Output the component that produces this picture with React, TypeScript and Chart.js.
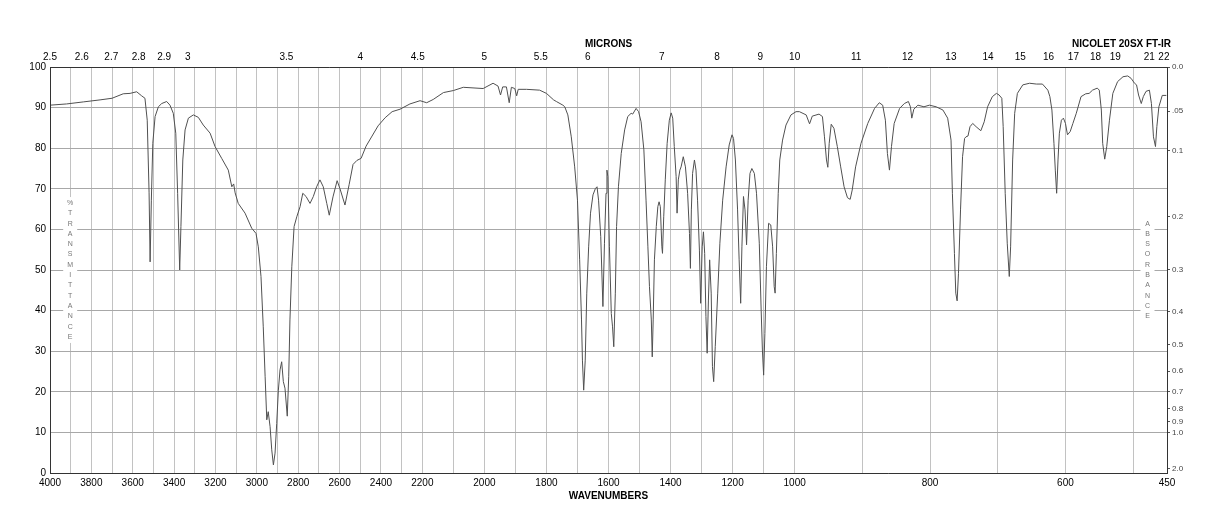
import React, { useEffect, useRef } from 'react';
import { Chart, LinearScale, registerables } from 'chart.js';

Chart.register(...registerables);

// ---- Spectrum data (wavenumber, cm-1) and % transmittance ----
const wavenumbers: number[] = [
  4000, 3920, 3839, 3758, 3700, 3646, 3613, 3581, 3557, 3541, 3530, 3521, 3516, 3510, 3503, 3492, 3476, 3460, 3436, 3420,
  3404, 3392, 3383, 3373, 3367, 3358, 3347, 3331, 3307, 3283, 3259, 3226, 3202, 3170, 3138, 3121, 3112, 3105, 3090, 3057,
  3025, 3004, 2993, 2980, 2969, 2960, 2952, 2945, 2936, 2928, 2920, 2912, 2904, 2896, 2888, 2880, 2872, 2864, 2853, 2846,
  2840, 2831, 2820, 2807, 2791, 2778, 2762, 2743, 2727, 2711, 2695, 2679, 2662, 2650, 2632, 2612, 2598, 2574, 2554, 2535,
  2516, 2496, 2472, 2443, 2414, 2380, 2346, 2308, 2260, 2211, 2186, 2165, 2132, 2100, 2068, 2004, 1972, 1956, 1948, 1941,
  1929, 1920, 1913, 1902, 1896, 1891, 1864, 1822, 1800, 1777, 1768, 1747, 1741, 1731, 1720, 1709, 1700, 1693, 1687, 1684,
  1680, 1675, 1670, 1664, 1658, 1650, 1642, 1637, 1632, 1625, 1618, 1613, 1608, 1605, 1602, 1597, 1591, 1587, 1583, 1578,
  1574, 1568, 1559, 1548, 1538, 1527, 1522, 1511, 1503, 1495, 1486, 1479, 1473, 1468, 1462, 1459, 1456, 1452, 1446, 1441,
  1437, 1433, 1428, 1426, 1422, 1417, 1411, 1404, 1398, 1393, 1388, 1382, 1379, 1375, 1370, 1366, 1359, 1352, 1345, 1339,
  1336, 1333, 1329, 1323, 1318, 1313, 1307, 1303, 1298, 1294, 1290, 1286, 1282, 1278, 1274, 1269, 1265, 1261, 1256, 1248,
  1241, 1232, 1221, 1211, 1202, 1197, 1191, 1184, 1179, 1174, 1170, 1165, 1160, 1155, 1150, 1144, 1138, 1130, 1123, 1114,
  1108, 1104, 1100, 1096, 1091, 1084, 1077, 1071, 1066, 1063, 1059, 1053, 1048, 1039, 1028, 1012, 998, 993, 983, 978,
  974, 964, 959, 956, 953, 951, 949, 946, 942, 937, 932, 927, 922, 918, 915, 910, 902, 892, 882, 875,
  870, 866, 863, 860, 857, 853, 845, 838, 832, 829, 827, 824, 818, 809, 801, 791, 781, 774, 769, 767,
  764, 762, 760, 758, 755, 752, 749, 747, 744, 741, 737, 732, 725, 720, 715, 708, 702, 698, 694, 692,
  689, 686, 683, 681, 678, 675, 671, 663, 653, 643, 634, 626, 623, 620, 617, 615, 613, 611, 609, 606,
  603, 600, 597, 593, 589, 584, 577, 570, 565, 560, 553, 550, 547, 545, 542, 539, 535, 530, 523, 515,
  508, 503, 498, 495, 492, 488, 485, 481, 476, 473, 470, 467, 465, 462, 457, 451,
];

const transmittance: number[] = [
  90.6, 90.9, 91.4, 91.9, 92.3, 93.4, 93.5, 93.9, 92.9, 92.3, 86.9, 69.0, 52.0, 67.2, 81.2, 87.8, 90.2, 91.0, 91.5, 90.6,
  88.6, 83.7, 68.9, 50.0, 60.7, 77.1, 84.5, 87.4, 88.2, 87.6, 85.7, 83.7, 80.4, 77.5, 74.6, 70.5, 71.2, 69.0, 66.4, 64.0,
  60.3, 59.0, 55.7, 48.4, 36.0, 23.7, 13.1, 15.1, 11.4, 5.7, 2.0, 4.9, 12.2, 20.4, 25.4, 27.4, 22.5, 20.9, 14.0, 23.7,
  37.7, 50.8, 60.7, 63.1, 65.6, 68.9, 68.1, 66.4, 68.1, 70.5, 72.2, 70.5, 66.4, 63.5, 68.0, 72.0, 70.0, 66.0, 71.0, 76.0,
  77.0, 77.5, 80.5, 83.0, 85.5, 87.5, 89.0, 89.6, 90.9, 91.7, 91.2, 92.0, 93.7, 94.2, 95.0, 94.7, 96.0, 95.3, 93.1, 95.1,
  95.1, 91.2, 95.0, 94.7, 92.9, 94.5, 94.5, 94.3, 93.5, 91.9, 91.5, 90.6, 90.2, 88.2, 82.8, 75.4, 67.2, 52.5, 37.7, 27.8,
  20.4, 27.8, 44.3, 55.7, 64.0, 68.5, 70.1, 70.5, 67.2, 58.2, 41.0, 56.6, 68.9, 74.6, 73.0, 55.7, 39.3, 36.0, 31.1, 44.3,
  60.7, 70.5, 78.7, 84.5, 87.8, 88.6, 88.4, 89.8, 89.0, 86.5, 79.6, 67.2, 55.7, 45.9, 37.7, 28.6, 37.7, 52.5, 60.7, 65.6,
  66.8, 65.6, 55.7, 54.1, 63.1, 72.2, 81.2, 86.9, 88.7, 87.4, 80.4, 73.0, 64.0, 72.2, 74.6, 75.4, 77.9, 75.4, 68.9, 59.0,
  50.4, 64.8, 73.8, 77.1, 74.6, 67.2, 54.9, 41.8, 55.7, 59.4, 54.1, 38.5, 29.5, 42.6, 52.5, 44.3, 26.2, 22.5, 31.1, 44.3,
  56.6, 67.2, 75.4, 80.8, 83.3, 82.4, 77.1, 64.8, 52.5, 41.8, 55.7, 68.1, 64.8, 56.2, 67.2, 73.8, 75.0, 73.8, 68.9, 56.6,
  40.1, 30.3, 24.1, 34.4, 50.8, 61.5, 61.1, 55.7, 45.9, 44.3, 54.1, 68.9, 77.1, 82.0, 85.7, 88.2, 89.0, 89.0, 88.2, 86.0,
  87.9, 88.4, 87.8, 82.8, 77.1, 75.3, 81.2, 85.9, 84.9, 80.4, 75.4, 70.5, 67.8, 67.4, 69.7, 75.4, 81.2, 86.1, 89.8, 91.2,
  90.6, 86.9, 78.7, 74.6, 80.4, 86.1, 89.8, 91.0, 91.5, 90.2, 87.4, 89.6, 90.6, 90.2, 90.6, 90.2, 89.4, 87.4, 82.0, 68.9,
  54.1, 44.3, 42.4, 49.2, 64.8, 77.9, 82.4, 82.8, 83.0, 85.3, 86.1, 85.3, 84.3, 86.5, 90.2, 92.7, 93.5, 93.1, 92.3, 85.3,
  68.9, 56.6, 48.4, 55.7, 77.1, 88.6, 93.5, 95.6, 96.0, 95.8, 95.8, 94.3, 92.7, 89.4, 81.2, 74.6, 68.9, 77.1, 83.7, 86.9,
  87.4, 86.1, 83.3, 84.1, 86.1, 88.6, 92.7, 93.4, 93.5, 94.3, 94.8, 94.3, 89.4, 81.2, 77.3, 80.4, 86.9, 93.5, 96.4, 97.6,
  97.8, 97.2, 96.0, 95.6, 93.1, 91.0, 92.7, 94.0, 94.3, 91.0, 82.8, 80.4, 85.3, 90.2, 93.0, 93.0,
];

// ---- Axis ticks ----
const wavenumberTicks: number[] = [
  4000, 3900, 3800, 3700, 3600, 3500, 3400, 3300, 3200, 3100, 3000, 2900, 2800, 2700, 2600, 2500, 2400, 2300, 2200, 2100,
  2000, 1900, 1800, 1700, 1600, 1500, 1400, 1300, 1200, 1100, 1000, 900, 800, 700, 600, 500, 450,
];
const wavenumberLabels: string[] = [
  '4000', '', '3800', '', '3600', '', '3400', '', '3200', '', '3000', '', '2800', '', '2600', '', '2400', '', '2200', '',
  '2000', '', '1800', '', '1600', '', '1400', '', '1200', '', '1000', '', '800', '', '600', '', '450',
];
const micronTicks: number[] = [2.5, 2.6, 2.7, 2.8, 2.9, 3, 3.5, 4, 4.5, 5, 5.5, 6, 7, 8, 9, 10, 11, 12, 13, 14, 15, 16, 17, 18, 19, 21, 22];
const micronLabels: string[] = ['2.5', '2.6', '2.7', '2.8', '2.9', '3', '3.5', '4', '4.5', '5', '5.5', '6', '7', '8', '9', '10', '11', '12', '13', '14', '15', '16', '17', '18', '19', '21', '22'];
const percentTicks: number[] = [0, 10, 20, 30, 40, 50, 60, 70, 80, 90, 100];
const absorbanceTicks: number[] = [0, 0.05, 0.1, 0.2, 0.3, 0.4, 0.5, 0.6, 0.7, 0.8, 0.9, 1.0, 2.0];
const absorbanceLabels: string[] = ['0.0', '.05', '0.1', '0.2', '0.3', '0.4', '0.5', '0.6', '0.7', '0.8', '0.9', '1.0', '2.0'];

// Piecewise-linear wavenumber axis (three equal-width panels)
const PANEL_BREAKS: number[] = [4000, 2200, 1000, 450];

function waveToFraction(v: number): number {
  for (let i = 0; i < 3; i++) {
    const a = PANEL_BREAKS[i];
    const b = PANEL_BREAKS[i + 1];
    if (v >= b || i === 2) return (i + (a - v) / (a - b)) / 3;
  }
  return 1;
}
function fractionToWave(f: number): number {
  const s = Math.min(2, Math.max(0, Math.floor(f * 3)));
  const a = PANEL_BREAKS[s];
  const b = PANEL_BREAKS[s + 1];
  return a - (f * 3 - s) * (a - b);
}

class WavenumberScale extends LinearScale {
  static id = 'wavenumber';
  static defaults = {};
  getPixelForValue(value: number) {
    return this.getPixelForDecimal(waveToFraction(value));
  }
  getValueForPixel(pixel: number) {
    return fractionToWave(this.getDecimalForPixel(pixel));
  }
}
Chart.register(WavenumberScale);

const FONT = "'Liberation Sans', Arial, Helvetica, sans-serif";

const textPlugin = {
  id: 'irText',
  beforeDatasetsDraw(chart: any) {
    const { ctx, chartArea, scales } = chart;
    const yMid = scales.y.getPixelForValue(50);
    const step = 10.3;
    const drawStack = (text: string, x: number) => {
      const chars = text.split('');
      const y0 = yMid - ((chars.length - 1) / 2) * step;
      ctx.save();
      ctx.fillStyle = '#ffffff';
      ctx.fillRect(x - 7, y0 - 6, 14, (chars.length - 1) * step + 12);
      ctx.fillStyle = '#777777';
      ctx.font = `7px ${FONT}`;
      ctx.textAlign = 'center';
      ctx.textBaseline = 'middle';
      chars.forEach((c, i) => ctx.fillText(c, x, y0 + i * step));
      ctx.restore();
    };
    drawStack('%TRANSMITTANCE', scales.x.getPixelForValue(3900) - 0.5);
    drawStack('ABSORBANCE', chartArea.right - 19.5);
  },
  afterDraw(chart: any) {
    const { ctx, chartArea } = chart;
    ctx.save();
    ctx.fillStyle = '#000';
    ctx.font = `bold 10px ${FONT}`;
    ctx.textBaseline = 'middle';
    const cx = (chartArea.left + chartArea.right) / 2;
    ctx.textAlign = 'center';
    ctx.fillText('MICRONS', cx, chartArea.top - 23);
    ctx.fillText('WAVENUMBERS', cx, chartArea.bottom + 23);
    ctx.textAlign = 'right';
    ctx.fillText('NICOLET 20SX FT-IR', chartArea.right + 4, chartArea.top - 23);
    ctx.restore();
  },
};

export default function App() {
  const canvasRef = useRef<HTMLCanvasElement | null>(null);

  useEffect(() => {
    if (!canvasRef.current) return;
    Chart.defaults.font.family = FONT;
    const points = wavenumbers.map((x, i) => ({ x, y: transmittance[i] }));
    const chart = new Chart(canvasRef.current, {
      type: 'line',
      data: {
        datasets: [
          {
            data: points,
            borderColor: '#505050',
            borderWidth: 1,
            pointRadius: 0,
            tension: 0,
            fill: false,
            xAxisID: 'x',
            yAxisID: 'y',
          },
        ],
      },
      options: {
        animation: false,
        responsive: false,
        events: [],
        layout: { padding: 0 },
        plugins: {
          legend: { display: false },
          tooltip: { enabled: false },
          title: { display: false },
        },
        scales: {
          x: {
            type: 'wavenumber' as any,
            position: 'bottom',
            min: 450,
            max: 4000,
            afterBuildTicks: (s: any) => {
              s.ticks = wavenumberTicks.map((v) => ({ value: v }));
            },
            afterFit: (s: any) => {
              s.height = 47;
            },
            grid: { color: '#c2c2c2', lineWidth: 1, drawTicks: false },
            border: { color: '#333', width: 1, z: 1 },
            ticks: {
              autoSkip: false,
              maxRotation: 0,
              minRotation: 0,
              padding: 4,
              color: '#000',
              font: { size: 10, family: FONT },
              callback: (_v: any, i: number) => wavenumberLabels[i],
            },
          },
          xTop: {
            type: 'wavenumber' as any,
            position: 'top',
            min: 450,
            max: 4000,
            afterBuildTicks: (s: any) => {
              s.ticks = micronTicks.map((m) => ({ value: 10000 / m }));
            },
            afterFit: (s: any) => {
              s.height = 59;
            },
            grid: { display: false, drawTicks: false },
            border: { color: '#333', width: 1, z: 1 },
            ticks: {
              autoSkip: false,
              maxRotation: 0,
              minRotation: 0,
              padding: 4,
              color: '#000',
              font: { size: 10, family: FONT },
              callback: (_v: any, i: number) => micronLabels[i],
            },
          },
          y: {
            type: 'linear',
            position: 'left',
            min: 0,
            max: 100,
            afterBuildTicks: (s: any) => {
              s.ticks = percentTicks.map((v) => ({ value: v }));
            },
            afterFit: (s: any) => {
              s.width = 42;
            },
            grid: { color: '#a8a8a8', lineWidth: 1, drawTicks: false },
            border: { color: '#333', width: 1, z: 1 },
            ticks: {
              autoSkip: false,
              padding: 4,
              color: '#000',
              font: { size: 10, family: FONT },
              callback: (v: any) => String(v),
            },
          },
          yAbs: {
            type: 'linear',
            position: 'right',
            min: 0,
            max: 100,
            afterBuildTicks: (s: any) => {
              s.ticks = absorbanceTicks.map((a) => ({ value: 100 * Math.pow(10, -a) }));
            },
            afterFit: (s: any) => {
              s.width = 43;
            },
            grid: { drawOnChartArea: false, drawTicks: true, tickLength: 3, color: '#555' },
            border: { color: '#333', width: 1, z: 1 },
            ticks: {
              autoSkip: false,
              padding: 2,
              color: '#444',
              font: { size: 8, family: FONT },
              callback: (_v: any, i: number) => absorbanceLabels[i],
            },
          },
        },
      },
      plugins: [textPlugin],
    } as any);
    return () => chart.destroy();
  }, []);

  return (
    <div style={{ width: 1202, height: 512 }}>
      <canvas ref={canvasRef} width={1202} height={512} style={{ display: 'block', width: 1202, height: 512 }} />
    </div>
  );
}
